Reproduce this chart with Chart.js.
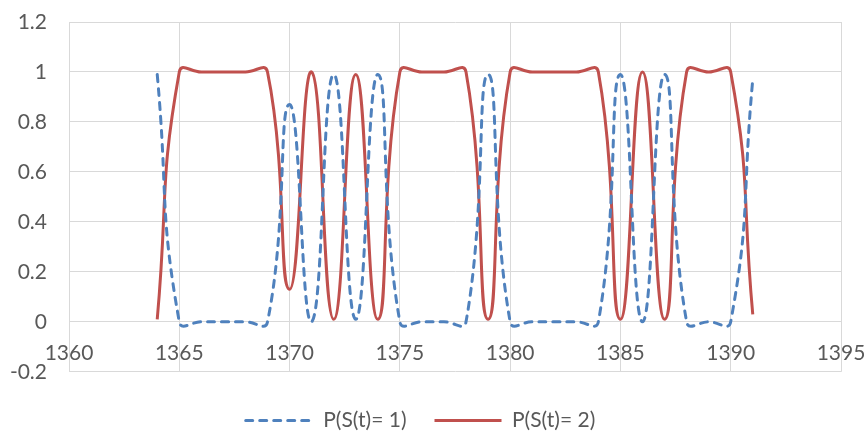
<!DOCTYPE html>
<html>
<head>
<meta charset="utf-8">
<script src="https://cdn.jsdelivr.net/npm/chart.js@4"></script>
<style>
  html, body { margin: 0; padding: 0; background: #fff; }
  #wrap { width: 866px; height: 436px; }
</style>
</head>
<body>
<div id="wrap"><canvas id="myChart"></canvas></div>
<script>
// years on the x axis
const years = [1364, 1365, 1366, 1367, 1368, 1369, 1370, 1371, 1372, 1373, 1374, 1375, 1376, 1377,
               1378, 1379, 1380, 1381, 1382, 1383, 1384, 1385, 1386, 1387, 1388, 1389, 1390, 1391];

// P(S(t)= 1)
const state1 = [0.99, 0, 0, 0, 0, 0, 0.87, 0, 0.99, 0.01, 0.99, 0, 0, 0,
                0, 0.99, 0, 0, 0, 0, 0, 0.99, 0, 0.99, 0, 0, 0, 0.97];

// P(S(t)= 2)
const state2 = [0.01, 1, 1, 1, 1, 1, 0.13, 1, 0.01, 0.99, 0.01, 1, 1, 1,
                1, 0.01, 1, 1, 1, 1, 1, 0.01, 1, 0.01, 1, 1, 1, 0.03];

const seriesNames = ['P(S(t)= 1)', 'P(S(t)= 2)'];

const xTicks = [1360, 1365, 1370, 1375, 1380, 1385, 1390, 1395];
const yTicks = [-0.2, 0, 0.2, 0.4, 0.6, 0.8, 1, 1.2];

const gridColor = '#d9d9d9';
const textColor = '#595959';
const fontSize = 21;

function toPoints(vals) {
    return vals.map((v, i) => ({x: years[i], y: v}));
}

const ctx = document.getElementById('myChart');

new Chart(ctx, {
  type: 'line',
  data: {
    datasets: [{
      label: seriesNames[0],
      data: toPoints(state1),
      borderColor: '#4f81bd',
      backgroundColor: '#4f81bd',
      borderWidth: 3,
      borderDash: [7, 7],
      borderCapStyle: 'round',
      pointRadius: 0,
      tension: 0.5
    }, {
      label: seriesNames[1],
      data: toPoints(state2),
      borderColor: '#c0504d',
      backgroundColor: '#c0504d',
      borderWidth: 3,
      pointRadius: 0,
      tension: 0.5
    }]
  },
  options: {
    responsive: true,
    maintainAspectRatio: false,
    animation: false,
    // bottom is negative so the legend row sits lower without moving the plot
    layout: { padding: { left: 0, right: 25, top: 22, bottom: -5 } },
    font: { family: 'Lato', size: fontSize },
    plugins: {
      tooltip: { enabled: false },
      legend: {
        position: 'bottom',
        title: { display: true, text: ' ', font: { size: 1 }, padding: { top: 9, bottom: 0 } },
        labels: {
          usePointStyle: true,
          pointStyle: 'line',
          pointStyleWidth: 67,
          padding: 28,
          color: textColor,
          font: { family: 'Lato', size: fontSize },
          generateLabels: chart => {
            const items = Chart.defaults.plugins.legend.labels.generateLabels(chart);
            items.forEach((item, i) => {
              const ds = chart.data.datasets[i];
              item.lineDash = ds.borderDash || [];
              item.lineCap = ds.borderCapStyle || 'butt';
              item.lineWidth = ds.borderWidth;
              item.strokeStyle = ds.borderColor;
            });
            return items;
          }
        }
      }
    },
    scales: {
      x: {
        type: 'linear',
        position: { y: 0 },
        min: 1360,
        max: 1395,
        afterBuildTicks: scale => { scale.ticks = xTicks.map(v => ({value: v})); },
        // drop the label overhang, the layout padding handles it
        afterFit: scale => { scale.paddingLeft = 0; scale.paddingRight = 0; },
        grid: { color: gridColor, drawTicks: false },
        border: { color: gridColor },
        ticks: {
          color: textColor,
          padding: 19,
          font: { family: 'Lato', size: fontSize },
          callback: v => String(v)
        }
      },
      y: {
        min: -0.2,
        max: 1.2,
        afterBuildTicks: scale => { scale.ticks = yTicks.map(v => ({value: v})); },
        afterFit: scale => { scale.width = 69; scale.paddingTop = 0; scale.paddingBottom = 0; },
        grid: { color: gridColor, drawTicks: false },
        border: { color: gridColor },
        ticks: {
          color: textColor,
          padding: 22,
          font: { family: 'Lato', size: fontSize },
          callback: v => String(Math.round(v * 10) / 10)
        }
      }
    }
  }
});
</script>
</body>
</html>
